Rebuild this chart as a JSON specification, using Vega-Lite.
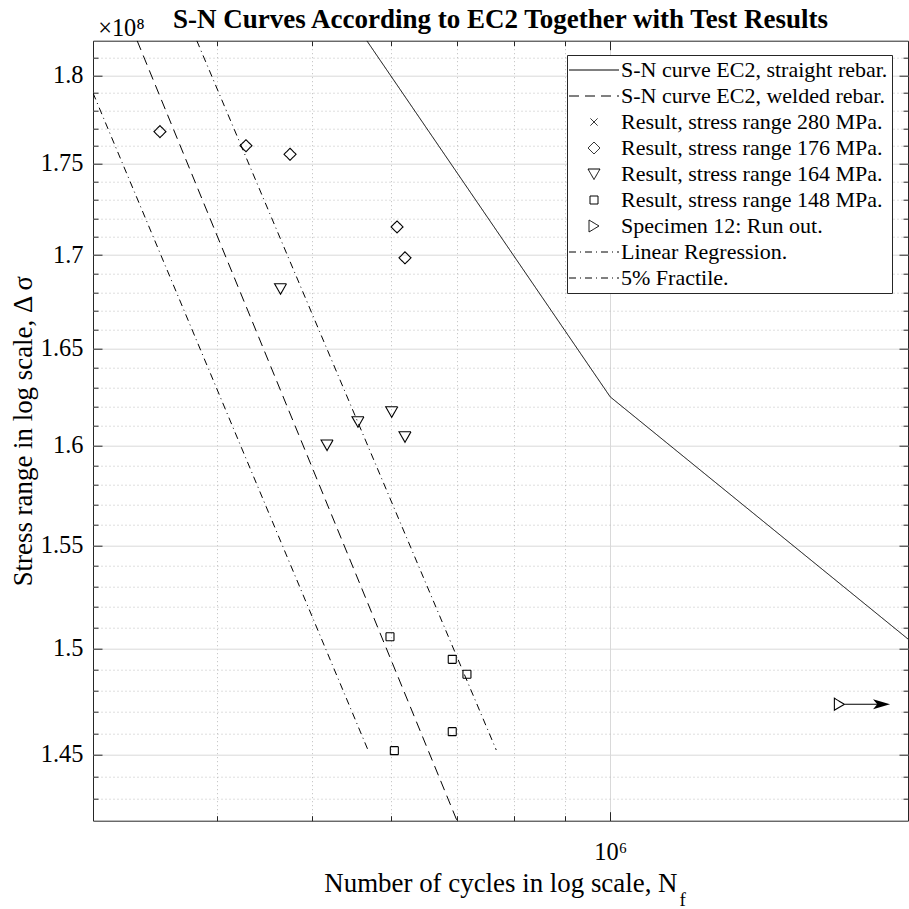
{
  "$schema": "https://vega.github.io/schema/vega-lite/v6.json",
  "width": 815,
  "height": 780,
  "autosize": {"type": "none"},
  "padding": {"left": 93, "top": 40.7, "right": 1, "bottom": 88.3},
  "title": {"text": "S-N Curves According to EC2 Together with Test Results", "font": "Liberation Serif", "fontSize": 27, "fontWeight": "bold", "color": "black", "anchor": "middle", "frame": "group", "offset": 5, "dy": 24},
  "config": {
    "view": {"stroke": "#262626", "strokeWidth": 1},
    "font": "Liberation Serif",
    "axis": {"labelFont": "Liberation Serif", "titleFont": "Liberation Serif", "labelColor": "black", "titleColor": "black", "titleFontWeight": "normal", "domain": false, "tickColor": "#262626", "tickWidth": 1, "gridWidth": 1, "labelFlush": false, "labelOverlap": false},
    "legend": {"title": null, "orient": "none", "legendX": 474, "legendY": 14.3, "direction": "vertical",
      "fillColor": "white", "strokeColor": "#262626", "padding": 4,
      "labelFont": "Liberation Serif", "labelFontSize": 22, "labelColor": "black", "labelLimit": 500,
      "symbolSize": 100, "symbolStrokeWidth": 1, "symbolStrokeColor": "black",
      "symbolOffset": 12, "labelOffset": 16, "rowPadding": 4}
  },
  "datasets": {
    "lines": [
      {"series": "S-N curve EC2, straight rebar.", "N": 567430, "S": 182000000},
      {"series": "S-N curve EC2, straight rebar.", "N": 1000000, "S": 162500000},
      {"series": "S-N curve EC2, straight rebar.", "N": 2000000, "S": 150450000},
      {"series": "S-N curve EC2, welded rebar.", "N": 332460, "S": 182000000},
      {"series": "S-N curve EC2, welded rebar.", "N": 700000, "S": 142000000},
      {"series": "Linear Regression.", "N": 382000, "S": 182000000},
      {"series": "Linear Regression.", "N": 767000, "S": 145230000},
      {"series": "5% Fractile.", "N": 300000, "S": 179000000},
      {"series": "5% Fractile.", "N": 569000, "S": 145230000}
    ],
    "points": [
      {"series": "Result, stress range 176 MPa.", "N": 350600, "S": 176810000},
      {"series": "Result, stress range 176 MPa.", "N": 428300, "S": 176020000},
      {"series": "Result, stress range 176 MPa.", "N": 474600, "S": 175540000},
      {"series": "Result, stress range 176 MPa.", "N": 608800, "S": 171530000},
      {"series": "Result, stress range 176 MPa.", "N": 620200, "S": 169850000},
      {"series": "Result, stress range 164 MPa.", "N": 464200, "S": 168190000},
      {"series": "Result, stress range 164 MPa.", "N": 601300, "S": 161730000},
      {"series": "Result, stress range 164 MPa.", "N": 555900, "S": 161220000},
      {"series": "Result, stress range 164 MPa.", "N": 620200, "S": 160450000},
      {"series": "Result, stress range 164 MPa.", "N": 517300, "S": 160030000},
      {"series": "Result, stress range 148 MPa.", "N": 598900, "S": 150560000},
      {"series": "Result, stress range 148 MPa.", "N": 692300, "S": 149480000},
      {"series": "Result, stress range 148 MPa.", "N": 716400, "S": 148770000},
      {"series": "Result, stress range 148 MPa.", "N": 692300, "S": 146080000},
      {"series": "Result, stress range 148 MPa.", "N": 605000, "S": 145200000},
      {"series": "Specimen 12: Run out.", "N": 1704700, "S": 147360000}
    ],
    "arrow": [
      {"N": 1727500, "S": 147360000},
      {"N": 1870000, "S": 147360000}
    ],
    "head": [
      {"N": 1880400, "S": 147360000}
    ]
  },
  "layer": [
    {
      "data": {"name": "lines"},
      "mark": {"type": "line", "color": "black", "strokeWidth": 1, "clip": true},
      "encoding": {
        "x": {"field": "N", "type": "quantitative", "scale": {"type": "log", "domain": [300000, 2000000], "nice": false},
          "axis": {"orient": "bottom", "values": [400000, 500000, 600000, 700000, 800000, 900000, 1000000],
            "labelExpr": "datum.value == 1000000 ? '10⁶' : ''", "labelFontSize": 24.4, "labelPadding": 29,
            "grid": true,
            "gridDash": {"condition": {"test": "datum.value == 1000000", "value": []}, "value": [1, 3]},
            "gridColor": {"condition": {"test": "datum.value == 1000000", "value": "#d9d9d9"}, "value": "#bdbdbd"},
            "tickSize": {"condition": {"test": "datum.value == 1000000", "value": -9}, "value": -5},
            "title": "Number of cycles in log scale, N", "titleFontSize": 26.9,
            "titleX": 584, "titleY": 70.3, "titleAlign": "right", "titleBaseline": "alphabetic", "zindex": 0}},
        "y": {"field": "S", "type": "quantitative", "scale": {"type": "log", "domain": [142000000, 182000000], "nice": false},
          "axis": {"orient": "left", "values": [143000000,144000000,145000000,146000000,147000000,148000000,149000000,150000000,151000000,152000000,153000000,154000000,155000000,156000000,157000000,158000000,159000000,160000000,161000000,162000000,163000000,164000000,165000000,166000000,167000000,168000000,169000000,170000000,171000000,172000000,173000000,174000000,175000000,176000000,177000000,178000000,179000000,180000000,181000000],
            "labelExpr": "datum.value % 5000000 == 0 ? '' + round(datum.value / 1000000) / 100 : ''", "labelFontSize": 24.4, "labelPadding": 19,
            "grid": true,
            "gridDash": {"condition": {"test": "datum.value % 5000000 == 0", "value": []}, "value": [1, 3]},
            "gridColor": {"condition": {"test": "datum.value % 5000000 == 0", "value": "#d9d9d9"}, "value": "#bdbdbd"},
            "tickSize": {"condition": {"test": "datum.value % 5000000 == 0", "value": -9}, "value": -5},
            "title": "Stress range in log scale, Δ σ", "titleFontSize": 26.9, "titleAngle": 270,
            "titleX": -62, "titleY": 390, "titleAlign": "center", "titleBaseline": "alphabetic", "zindex": 0}},
        "strokeDash": {"field": "series", "type": "nominal",
          "scale": {"domain": ["S-N curve EC2, straight rebar.", "S-N curve EC2, welded rebar.", "Result, stress range 280 MPa.", "Result, stress range 176 MPa.", "Result, stress range 164 MPa.", "Result, stress range 148 MPa.", "Specimen 12: Run out.", "Linear Regression.", "5% Fractile."],
            "range": [[1, 0], [10, 6], [1, 0], [1, 0], [1, 0], [1, 0], [1, 0], [7, 4, 1, 4], [7, 4, 1, 4]]}}
      }
    },
    {
      "data": {"name": "points"},
      "mark": {"type": "point", "filled": false, "color": "black", "strokeWidth": 1.1, "size": 100, "opacity": 1},
      "encoding": {
        "x": {"field": "N", "type": "quantitative", "scale": {"type": "log", "domain": [300000, 2000000], "nice": false},
          "axis": {"orient": "top", "values": [400000, 500000, 600000, 700000, 800000, 900000, 1000000], "labels": false, "grid": false,
            "tickSize": {"condition": {"test": "datum.value == 1000000", "value": -9}, "value": -5},
            "title": "f", "titleFontSize": 19, "titleX": 586, "titleY": 864.3, "titleAlign": "left", "titleBaseline": "alphabetic"}},
        "y": {"field": "S", "type": "quantitative", "scale": {"type": "log", "domain": [142000000, 182000000], "nice": false},
          "axis": {"orient": "right", "values": [143000000,144000000,145000000,146000000,147000000,148000000,149000000,150000000,151000000,152000000,153000000,154000000,155000000,156000000,157000000,158000000,159000000,160000000,161000000,162000000,163000000,164000000,165000000,166000000,167000000,168000000,169000000,170000000,171000000,172000000,173000000,174000000,175000000,176000000,177000000,178000000,179000000,180000000,181000000],
            "labels": false, "grid": false,
            "tickSize": {"condition": {"test": "datum.value % 5000000 == 0", "value": -9}, "value": -5},
            "title": "×10⁸", "titleFontSize": 24.4, "titleAngle": 0, "titleX": -787, "titleY": -5.7, "titleAlign": "center", "titleBaseline": "alphabetic"}},
        "shape": {"field": "series", "type": "nominal",
          "scale": {"domain": ["S-N curve EC2, straight rebar.", "S-N curve EC2, welded rebar.", "Result, stress range 280 MPa.", "Result, stress range 176 MPa.", "Result, stress range 164 MPa.", "Result, stress range 148 MPa.", "Specimen 12: Run out.", "Linear Regression.", "5% Fractile."],
            "range": ["M-5,0L5,0", "M-5,0L5,0", "M-0.7,-0.7L0.7,0.7M-0.7,0.7L0.7,-0.7", "M0,-1.2L1.2,0L0,1.2L-1.2,0Z", "M-1.2,-1L1.2,-1L0,1.1Z", "M-0.8,-0.8L0.8,-0.8L0.8,0.8L-0.8,0.8Z", "M1,0L-1,-1.2L-1,1.2Z", "M-5,0L5,0", "M-5,0L5,0"]}},
        "strokeDash": {"field": "series", "type": "nominal",
          "scale": {"domain": ["S-N curve EC2, straight rebar.", "S-N curve EC2, welded rebar.", "Result, stress range 280 MPa.", "Result, stress range 176 MPa.", "Result, stress range 164 MPa.", "Result, stress range 148 MPa.", "Specimen 12: Run out.", "Linear Regression.", "5% Fractile."],
            "range": [[1, 0], [10, 6], [1, 0], [1, 0], [1, 0], [1, 0], [1, 0], [7, 4, 1, 4], [7, 4, 1, 4]]}}
      }
    },
    {
      "data": {"name": "arrow"},
      "mark": {"type": "line", "color": "black", "strokeWidth": 1.2},
      "encoding": {
        "x": {"field": "N", "type": "quantitative", "scale": {"type": "log", "domain": [300000, 2000000], "nice": false}, "axis": null},
        "y": {"field": "S", "type": "quantitative", "scale": {"type": "log", "domain": [142000000, 182000000], "nice": false}, "axis": null}
      }
    },
    {
      "data": {"name": "head"},
      "mark": {"type": "point", "shape": "M1,0L-1,-0.6L-0.5,0L-1,0.6Z", "filled": true, "color": "black", "size": 289, "opacity": 1},
      "encoding": {
        "x": {"field": "N", "type": "quantitative", "scale": {"type": "log", "domain": [300000, 2000000], "nice": false}, "axis": null},
        "y": {"field": "S", "type": "quantitative", "scale": {"type": "log", "domain": [142000000, 182000000], "nice": false}, "axis": null}
      }
    }
  ],
  "resolve": {"axis": {"x": "independent", "y": "independent"}}
}
